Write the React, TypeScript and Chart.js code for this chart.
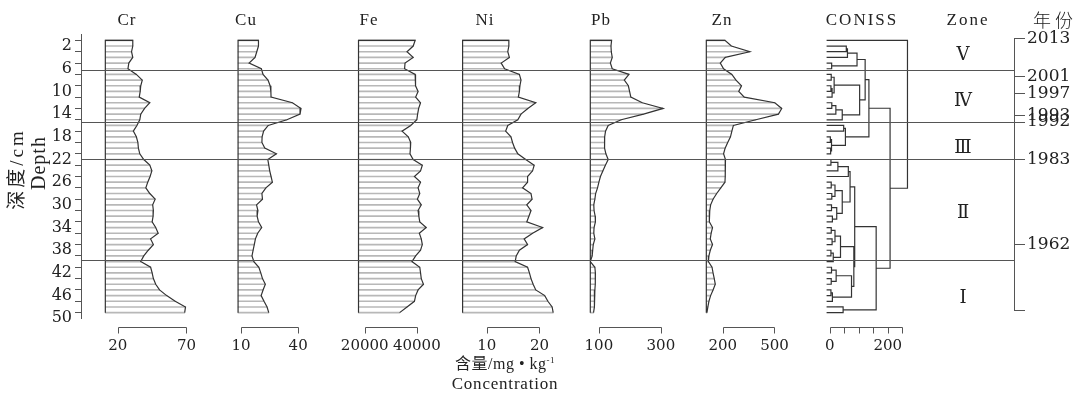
import React, { useEffect, useRef } from 'react';
import { Chart, registerables } from 'chart.js';

Chart.register(...registerables);

// ---------------- data ----------------
const depths = [1, 2, 3, 4, 5, 6, 7, 8, 9, 10, 11, 12, 13, 14, 15, 16, 17, 18, 19, 20, 21, 22, 23, 24, 25, 26, 27, 28, 29, 30, 31, 32, 33, 34, 35, 36, 37, 38, 39, 40, 41, 42, 43, 44, 45, 46, 47, 48, 49];

const crValues = [30.9, 30.9, 30.0, 30.9, 28.0, 27.4, 33.5, 37.8, 36.7, 36.3, 35.6, 43.3, 39.5, 36.7, 36.0, 33.9, 31.3, 33.5, 34.6, 35.0, 36.0, 38.9, 43.3, 44.8, 43.5, 41.8, 40.4, 43.3, 47.2, 45.4, 45.9, 45.7, 45.0, 47.6, 49.4, 43.9, 45.9, 42.2, 38.9, 36.7, 43.9, 45.0, 45.9, 47.6, 50.4, 55.6, 61.8, 69.3, 68.7];
const cuValues = [19.2, 19.2, 18.3, 17.4, 14.3, 20.7, 21.6, 24.2, 25.3, 25.7, 25.8, 37.0, 41.5, 41.0, 34.1, 24.3, 21.9, 21.1, 21.0, 22.5, 28.6, 24.1, 24.6, 25.1, 25.8, 26.5, 23.1, 21.0, 21.3, 18.2, 18.9, 18.5, 19.2, 20.9, 18.8, 17.6, 17.0, 16.4, 15.8, 16.8, 19.4, 20.4, 21.3, 22.8, 21.6, 20.6, 22.1, 23.7, 24.6];
const feValues = [39350, 38600, 36230, 38590, 35470, 35300, 39350, 39450, 39550, 40480, 39550, 41420, 40700, 40300, 40000, 37650, 34330, 36710, 37650, 37550, 37370, 38590, 42100, 41420, 39070, 41420, 40480, 41130, 40200, 41700, 40480, 40770, 41130, 43600, 40960, 41700, 42100, 41420, 39550, 38130, 41130, 41420, 41700, 42550, 40480, 39550, 39070, 36230, 33400];
const niValues = [14.2, 14.2, 14.0, 14.3, 12.75, 13.4, 16.2, 16.5, 16.3, 16.2, 16.0, 19.3, 17.8, 16.5, 15.9, 14.0, 13.6, 14.6, 14.9, 15.3, 15.9, 17.4, 19.0, 18.7, 17.75, 17.75, 16.8, 18.4, 18.6, 17.6, 18.4, 18.0, 17.6, 20.6, 18.7, 17.1, 17.75, 16.2, 15.6, 15.4, 17.75, 18.1, 18.4, 18.8, 19.3, 21.0, 21.6, 22.4, 22.6];
const pbValues = [141, 139, 140, 143, 137, 143, 197, 182, 195, 199, 203, 240, 307, 244, 172, 130, 121.4, 118.6, 118, 118.6, 122.5, 130, 121, 113, 105, 100, 95.6, 89.5, 87, 83.5, 84.4, 88, 88.7, 84.4, 83.5, 87, 81.8, 80, 78.3, 72.3, 87, 88.7, 88.7, 88, 87, 87, 85.3, 84.4, 82.7];
const znValues = [213, 250, 357, 215, 186, 205, 253, 277, 309, 293, 325, 502, 542, 523, 392, 262, 253, 245, 229, 214, 205, 216, 214, 214, 216, 213, 189, 165, 144, 130, 125, 123, 122, 141, 133, 128, 141, 128, 120, 117, 138, 144, 151, 157, 144, 130, 120, 114, 108.5];

const crTicks = [20, 70];
const cuTicks = [10, 40];
const feTicks = [20000, 40000];
const niTicks = [10, 20];
const pbTicks = [100, 300];
const znTicks = [200, 500];
const conissTicks = [0, 50, 100, 150, 200, 250];
const conissTickLabels = ['0', '', '', '', '200', ''];

// CONISS dendrogram: leaves are sample depths, nodes are [left, right, dispersion]
const conissTree: any = [1, [
  [
    [
      [[[2, 3, 57], 4, 61], [5, 6, 6.5], 94],
      [[[7, 8, 5], [[9, 10, 4], 11, 8], 15], [[[12, 13, 7], 14, 21], 15, 43], 103],
      122,
    ],
    [[16, 17, 48], [[18, 19, 2], [20, 21, 3], 6], 54],
    135,
  ],
  [
    [
      [[[[22, 23, 4], 24, 28], 25, 64], [[[26, 27, 5], [28, 29, 7], 18], [[30, 31, 6], [32, 33, 9], 24], 43], 70],
      [[[[34, 35, 5], [36, 37, 8], 18], [[38, 39, 4], 40, 12], 37], [[[41, 42, 6], [43, 44, 5], 22], [[45, 46, 4], 47, 9], 75], 83],
      86,
    ],
    [48, 49, 46],
    160,
  ],
  208,
], 268];
const conissLeafStart = -11;

const zoneBoundaries = [6.2, 15.4, 22, 39.7];
const zoneNames = ['Ⅴ', 'Ⅳ', 'Ⅲ', 'Ⅱ', 'Ⅰ'];
const zoneLabelDepths = [3.6, 11.8, 20.0, 31.5, 46.5];
const yearLabels = ['2013', '2001', '1997', '1993', '1992', '1983', '1962', ''];
const yearDepths = [0.7, 7.3, 10.3, 14.3, 15.4, 22.0, 37.0, 48.6];

// ---------------- layout ----------------
const TOP = 34.7;
const AXIS_H = 81.7;
const LEFT_AXIS_W = 81;
const RIGHT_AXIS_W = 67;
const LINE = '#555';
const TEXT = '#222';

const PANELS = [
  { key: 'Cr', values: crValues, ticks: crTicks, base: 10.9, min: -6.82, max: 80.19, left: 0, width: 215, depthAxis: true },
  { key: 'Cu', values: cuValues, ticks: cuTicks, base: 8.5, min: 4.256, max: 44.5, left: 215, width: 110, depthAxis: false },
  { key: 'Fe', values: feValues, ticks: feTicks, base: 17620, min: 12153, max: 48980, left: 325, width: 130, depthAxis: false },
  { key: 'Ni', values: niValues, ticks: niTicks, base: 5.44, min: 4.0, max: 25.2, left: 455, width: 113, depthAxis: false },
  { key: 'Pb', values: pbValues, ticks: pbTicks, base: 72.3, min: 38.7, max: 359.5, left: 568, width: 124, depthAxis: false },
  { key: 'Zn', values: znValues, ticks: znTicks, base: 105, min: 70, max: 618.9, left: 692, width: 114, depthAxis: false },
];
const CONISS_LAYOUT = { left: 806, width: 275, min: -45.9, max: 635.4 };

const HEADERS = [
  { text: 'Cr', x: 127, y: 19 },
  { text: 'Cu', x: 246, y: 19 },
  { text: 'Fe', x: 369, y: 19 },
  { text: 'Ni', x: 485, y: 19 },
  { text: 'Pb', x: 601, y: 19 },
  { text: 'Zn', x: 722, y: 19 },
  { text: 'CONISS', x: 862, y: 19 },
  { text: 'Zone', x: 968, y: 19 },
];

// ---------------- plugins ----------------
const overlayPlugin = {
  id: 'overlay',
  afterDatasetsDraw(chart: any, _args: any, opts: any) {
    const { ctx, chartArea, scales } = chart;
    const ys = scales.y;
    const xs = scales.x;
    ctx.save();
    ctx.strokeStyle = LINE;
    ctx.lineWidth = 1;
    const x0 = opts.lineFrom === 'area' ? chartArea.left : 0;
    const x1 = opts.lineTo === 'area' ? chartArea.right : chart.width;
    zoneBoundaries.forEach((d) => {
      const py = Math.round(ys.getPixelForValue(d)) + 0.5;
      ctx.beginPath();
      ctx.moveTo(x0, py);
      ctx.lineTo(x1, py);
      ctx.stroke();
    });
    const px = xs.ticks.map((t: any) => Math.round(xs.getPixelForValue(t.value)) + 0.5);
    const by = Math.round(chartArea.bottom + 9) + 0.5;
    ctx.beginPath();
    ctx.moveTo(px[0], by);
    ctx.lineTo(px[px.length - 1], by);
    px.forEach((p: number) => {
      ctx.moveTo(p, by);
      ctx.lineTo(p, by + 6);
    });
    ctx.stroke();
    ctx.restore();
  },
};

const conissExtrasPlugin = {
  id: 'conissExtras',
  afterDraw(chart: any) {
    const { ctx, chartArea, scales } = chart;
    const ys = scales.y;
    ctx.save();
    ctx.fillStyle = TEXT;
    ctx.font = '18px "DejaVu Serif"';
    ctx.textAlign = 'center';
    ctx.textBaseline = 'middle';
    zoneNames.forEach((n, i) => {
      ctx.fillText(n, chartArea.right - 51, ys.getPixelForValue(zoneLabelDepths[i]));
    });
    ctx.strokeStyle = LINE;
    ctx.lineWidth = 1;
    const x = Math.round(ys.left) + 0.5;
    ctx.beginPath();
    ctx.moveTo(x, ys.getPixelForValue(yearDepths[0]));
    ctx.lineTo(x, ys.getPixelForValue(yearDepths[yearDepths.length - 1]));
    ctx.stroke();
    ctx.restore();
  },
};

// ---------------- scale builders ----------------
function xScale(min: number, max: number, ticks: number[], labelFn: any) {
  return {
    type: 'linear',
    position: 'bottom',
    min,
    max,
    bounds: 'data',
    afterBuildTicks: (s: any) => {
      s.ticks = ticks.map((v) => ({ value: v }));
    },
    afterFit: (s: any) => {
      s.height = AXIS_H;
    },
    grid: { display: false, drawTicks: false },
    border: { display: false },
    ticks: {
      autoSkip: false,
      maxRotation: 0,
      padding: 19,
      color: TEXT,
      font: { family: 'DejaVu Serif', size: 15 },
      callback: labelFn,
    },
  };
}

function depthScale(show: boolean) {
  return {
    type: 'linear',
    position: 'left',
    reverse: true,
    min: 0,
    max: 50,
    bounds: 'data',
    offset: false,
    display: show,
    afterFit: (s: any) => {
      s.width = show ? LEFT_AXIS_W : 0;
    },
    grid: { drawOnChartArea: false, drawTicks: true, tickLength: 6, color: LINE },
    border: { display: true, color: LINE },
    ticks: {
      stepSize: 2,
      autoSkip: false,
      padding: 3,
      color: TEXT,
      font: { family: 'DejaVu Serif', size: 16 },
      callback: (v: number) => ((v - 2) % 4 === 0 ? String(v) : ''),
    },
  };
}

function panelConfig(p: any) {
  const bars = depths.map((d, i) => ({ x: p.values[i], y: d }));
  const outline = [{ x: p.base, y: depths[depths.length - 1] }, { x: p.base, y: depths[0] }, ...bars];
  return {
    type: 'bar',
    data: {
      datasets: [
        { type: 'line', data: outline, borderColor: '#333', borderWidth: 1.2, pointRadius: 0, fill: false, tension: 0, order: 0 },
        { type: 'bar', data: bars, base: p.base, backgroundColor: '#b8b8b8', borderWidth: 0, barThickness: 1, order: 1 },
      ],
    },
    options: {
      indexAxis: 'y',
      responsive: false,
      animation: false,
      devicePixelRatio: 1,
      layout: { padding: { top: TOP, left: 0, right: 0, bottom: 0 }, autoPadding: false },
      plugins: {
        legend: { display: false },
        tooltip: { enabled: false },
        overlay: { lineFrom: p.depthAxis ? 'area' : 'edge', lineTo: 'edge' },
      },
      scales: {
        x: xScale(p.min, p.max, p.ticks, (v: number) => String(v)),
        y: depthScale(p.depthAxis),
      },
    },
    plugins: [overlayPlugin],
  };
}

function treePoints(t: any, pts: any[]): { y: number; h: number } {
  if (typeof t === 'number') return { y: t, h: conissLeafStart };
  const a = treePoints(t[0], pts);
  const b = treePoints(t[1], pts);
  const h = t[2];
  pts.push({ x: a.h, y: a.y }, { x: h, y: a.y }, { x: h, y: b.y }, { x: b.h, y: b.y }, { x: null, y: null });
  return { y: (a.y + b.y) / 2, h };
}

function conissConfig() {
  const pts: any[] = [];
  treePoints(conissTree, pts);
  return {
    type: 'line',
    data: {
      datasets: [
        { data: pts, borderColor: '#333', borderWidth: 1.2, pointRadius: 0, fill: false, tension: 0, spanGaps: false },
      ],
    },
    options: {
      responsive: false,
      animation: false,
      devicePixelRatio: 1,
      layout: { padding: { top: TOP, left: 0, right: 0, bottom: 0 }, autoPadding: false },
      plugins: {
        legend: { display: false },
        tooltip: { enabled: false },
        overlay: { lineFrom: 'edge', lineTo: 'area' },
      },
      scales: {
        x: xScale(CONISS_LAYOUT.min, CONISS_LAYOUT.max, conissTicks, (_v: number, i: number) => conissTickLabels[i]),
        y: {
          type: 'linear',
          position: 'right',
          reverse: true,
          min: 0,
          max: 50,
          bounds: 'data',
          offset: false,
          afterBuildTicks: (s: any) => {
            s.ticks = yearDepths.map((v) => ({ value: v }));
          },
          afterFit: (s: any) => {
            s.width = RIGHT_AXIS_W;
          },
          grid: { drawOnChartArea: false, drawTicks: true, tickLength: 11, color: LINE },
          border: { display: false },
          ticks: {
            autoSkip: false,
            padding: 2,
            color: TEXT,
            font: { family: 'DejaVu Serif', size: 17 },
            callback: (_v: number, i: number) => yearLabels[i],
          },
        },
      },
    },
    plugins: [overlayPlugin, conissExtrasPlugin],
  };
}

function ChartCanvas({ left, width, makeConfig }: { left: number; width: number; makeConfig: () => any }) {
  const ref = useRef<HTMLCanvasElement>(null);
  useEffect(() => {
    const chart = new Chart(ref.current as HTMLCanvasElement, makeConfig());
    return () => chart.destroy();
  }, []);
  return (
    <canvas
      ref={ref}
      width={width}
      height={400}
      style={{ position: 'absolute', left, top: 0, width, height: 400 }}
    />
  );
}

const serif = "'Liberation Serif', 'Noto Sans CJK SC', serif";

function Label({ x, y, children, style }: any) {
  return (
    <div
      style={{
        position: 'absolute',
        left: x,
        top: y,
        transform: 'translate(-50%, -50%)',
        whiteSpace: 'nowrap',
        lineHeight: 1,
        color: TEXT,
        fontFamily: serif,
        ...style,
      }}
    >
      {children}
    </div>
  );
}

export default function App() {
  return (
    <div style={{ position: 'absolute', left: 0, top: 0, width: 1081, height: 400, background: '#fff', overflow: 'hidden' }}>
      {PANELS.map((p) => (
        <ChartCanvas key={p.key} left={p.left} width={p.width} makeConfig={() => panelConfig(p)} />
      ))}
      <ChartCanvas left={CONISS_LAYOUT.left} width={CONISS_LAYOUT.width} makeConfig={conissConfig} />

      {HEADERS.map((h) => (
        <Label key={h.text} x={h.x} y={h.y} style={{ fontSize: 17, letterSpacing: h.text.length > 2 ? 2 : 1 }}>
          {h.text}
        </Label>
      ))}
      <Label x={1055} y={19} style={{ fontSize: 18, letterSpacing: 4, fontFamily: "'Noto Sans CJK SC', sans-serif", fontWeight: 300 }}>
        年份
      </Label>

      <Label x={16} y={169} style={{ fontSize: 19, letterSpacing: 3, transform: 'translate(-50%, -50%) rotate(-90deg)' }}>
        深度/cm
      </Label>
      <Label x={38} y={163} style={{ fontSize: 20, letterSpacing: 1, transform: 'translate(-50%, -50%) rotate(-90deg)' }}>
        Depth
      </Label>

      <Label x={505} y={364} style={{ fontSize: 16, letterSpacing: 0.5 }}>
        含量/mg • kg<sup style={{ fontSize: 9, verticalAlign: 'super', lineHeight: 0 }}>-1</sup>
      </Label>
      <Label x={505} y={383} style={{ fontSize: 17, letterSpacing: 0.8 }}>
        Concentration
      </Label>
    </div>
  );
}
